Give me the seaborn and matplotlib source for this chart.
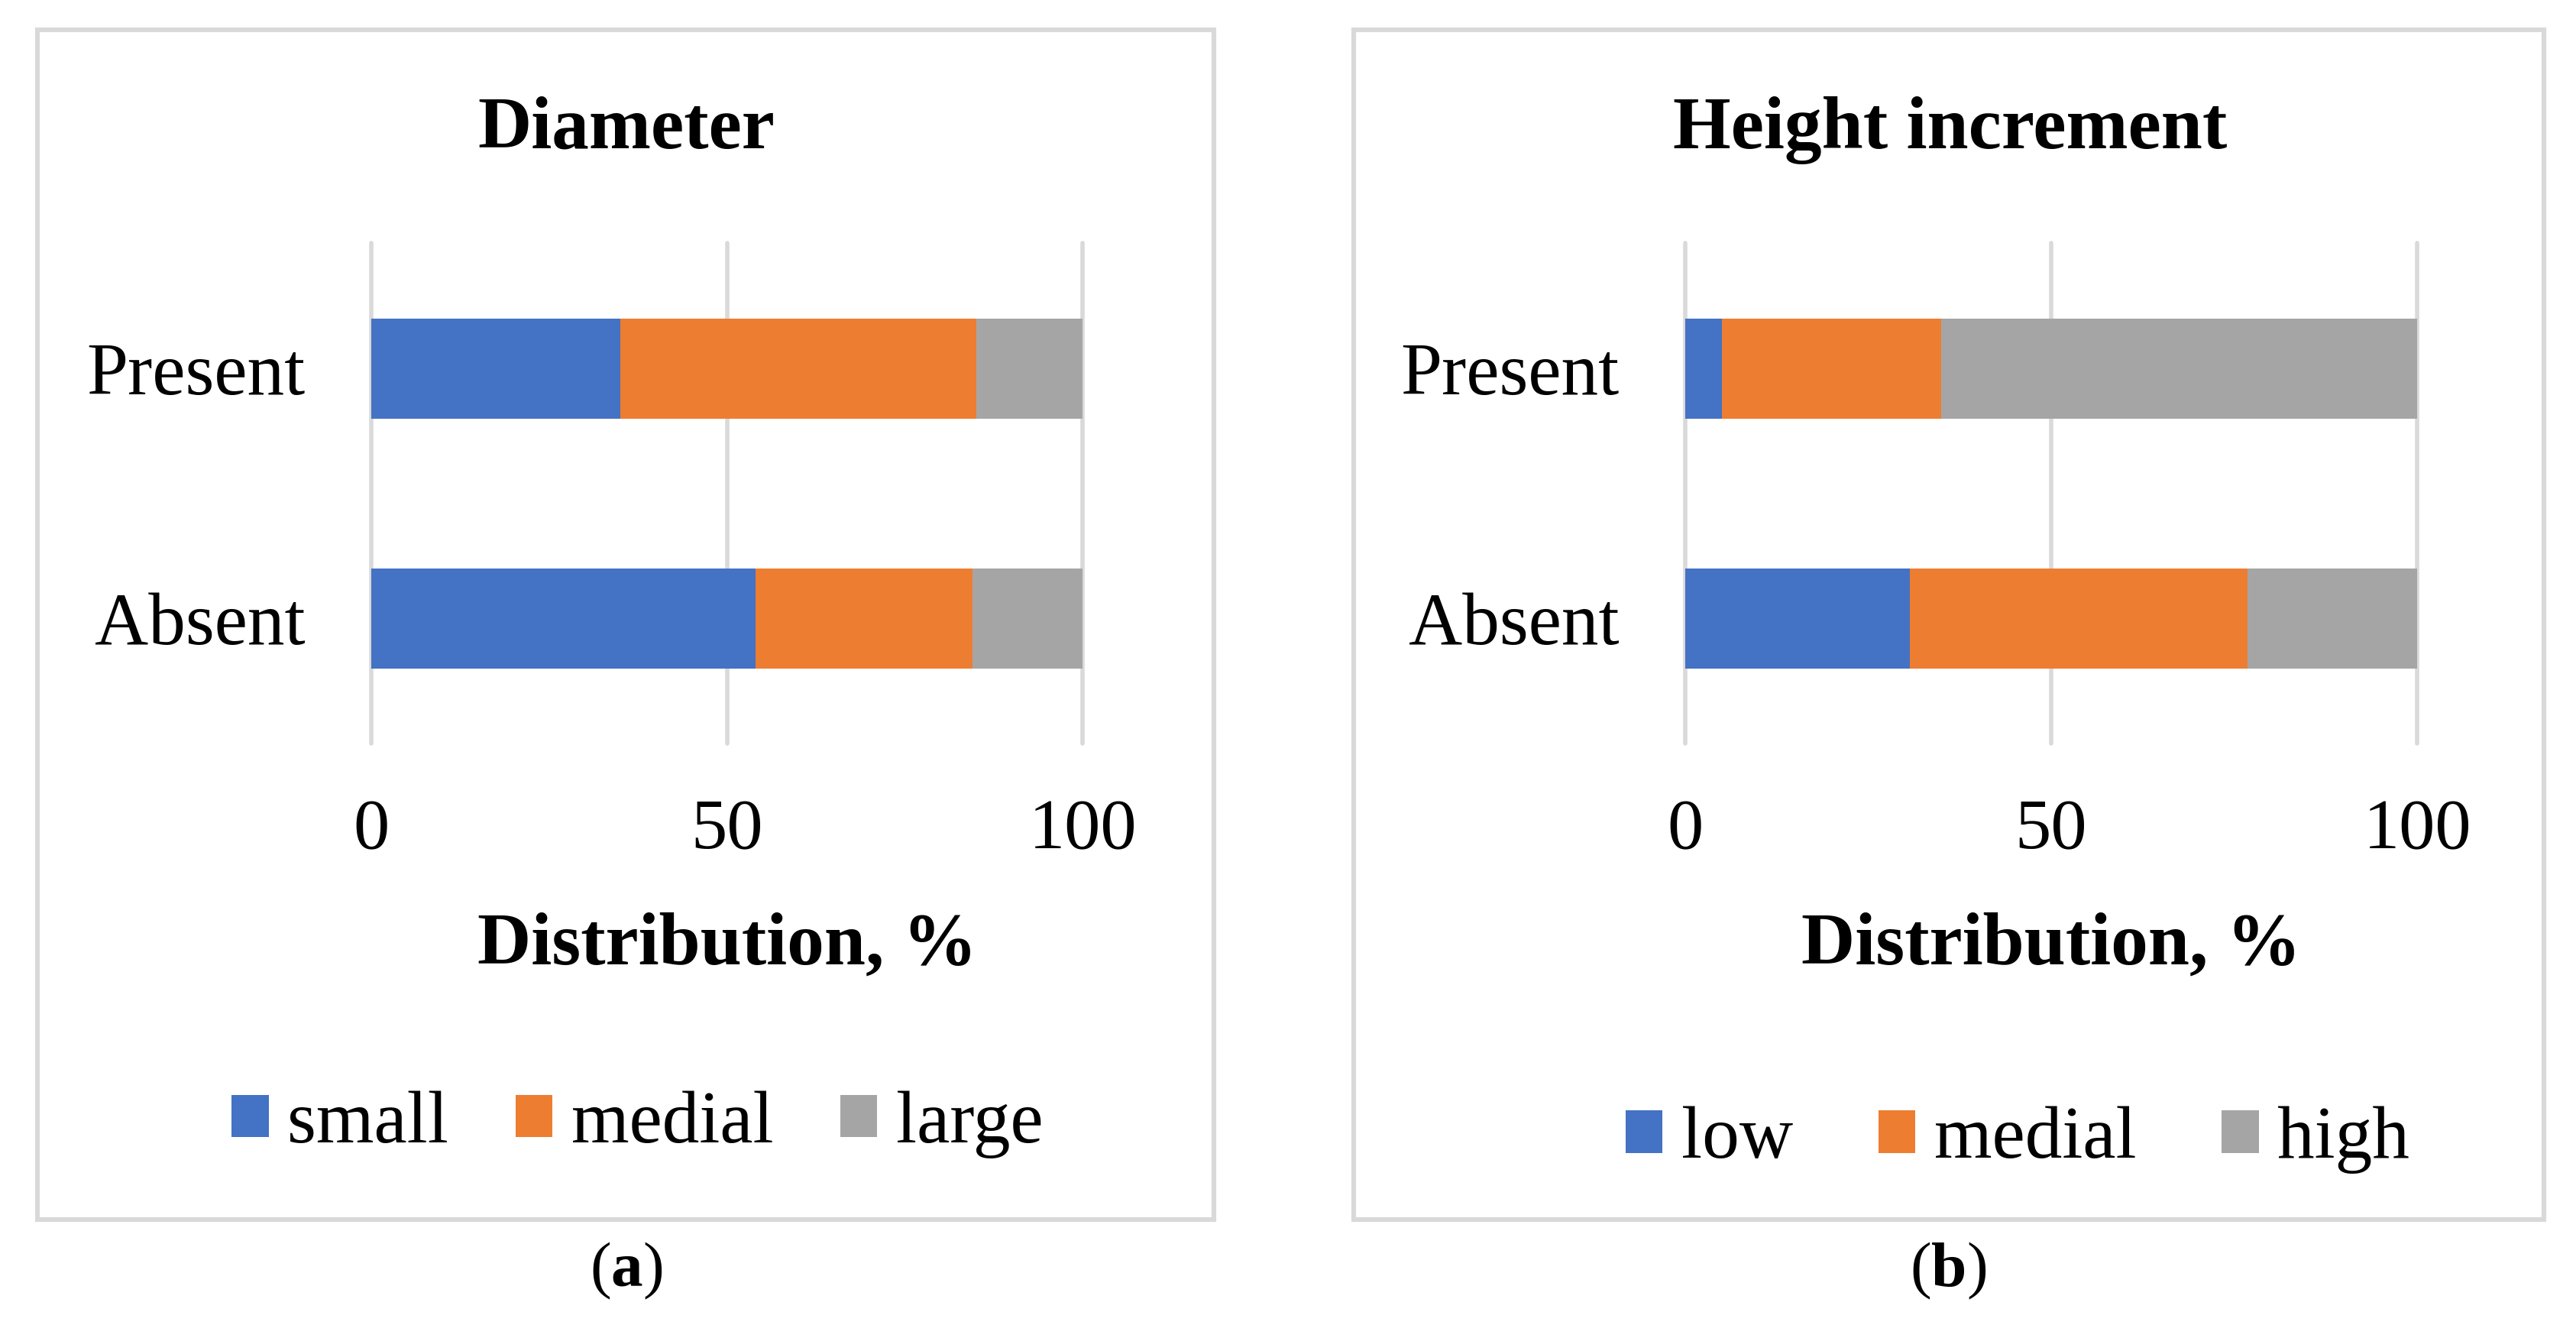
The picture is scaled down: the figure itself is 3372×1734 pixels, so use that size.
import seaborn as sns
import numpy as np
import pandas as pd
import matplotlib.pyplot as plt
from matplotlib.patches import Rectangle, Patch

# data (percent)
groups = ['Present', 'Absent']
diam_names = ['small', 'medial', 'large']
diam_small = [35, 54]
diam_medial = [50, 30.5]
diam_large = [15, 15.5]
hgt_names = ['low', 'medial', 'high']
hgt_low = [5, 30.7]
hgt_medial = [30, 46.1]
hgt_high = [65, 23.2]
colors = ['#4472C4', '#ED7D31', '#A5A5A5']

sns.set_theme(style='white')
plt.rcParams['font.family'] = ['Liberation Serif']
plt.rcParams['mathtext.fontset'] = 'custom'
plt.rcParams['mathtext.rm'] = 'Liberation Serif'
plt.rcParams['mathtext.bf'] = 'Liberation Serif:bold'
for k in ['text.color', 'axes.labelcolor', 'xtick.color', 'ytick.color']:
    plt.rcParams[k] = 'black'

W, H = 1568, 806
fig = plt.figure(figsize=(16.86, 8.67), dpi=200)


def panel(left, right, title, title_x, names, parts, leg_xy, colsp, box, cap, cap_x):
    ax = fig.add_axes([left / W, 1 - 452.5 / H, (right - left) / W, 304.5 / H])
    df = pd.DataFrame({'group': groups})
    cum = np.cumsum(np.array(parts), axis=0)
    # stacked bars: draw totals first, then shorter cumulative sums on top
    for i in range(len(names) - 1, -1, -1):
        df['v'] = cum[i]
        sns.barplot(data=df, x='v', y='group', order=groups, color=colors[i],
                    saturation=1, width=0.4, linewidth=0, orient='h', ax=ax)
    ax.set_xlim(0, 100)
    ax.set_xticks([0, 50, 100])
    ax.grid(axis='x', color='#D9D9D9', lw=2.0)
    ax.grid(axis='y', visible=False)
    for ln in ax.get_xgridlines():
        ln.set_clip_on(False)
    ax.set_axisbelow(True)
    sns.despine(ax=ax, left=True, bottom=True)
    ax.tick_params(axis='x', length=0, pad=26, labelsize=34)
    ax.tick_params(axis='y', length=0, pad=31, labelsize=35)
    ax.set_xlabel('')
    ax.set_ylabel('')
    cx = (left + right) / 2 / W
    fig.text(cx, 1 - 586.5 / H, 'Distribution, %', ha='center', va='baseline',
             fontsize=35, fontweight='bold')
    fig.text(title_x / W, 1 - 90 / H, title, ha='center', va='baseline',
             fontsize=35, fontweight='bold')
    handles = [Patch(facecolor=c, edgecolor='none') for c in colors]
    fig.legend(handles, names, loc='center', bbox_to_anchor=(leg_xy[0] / W, 1 - leg_xy[1] / H),
               ncol=3, frameon=False, fontsize=35, handlelength=0.5, handleheight=0.5,
               handletextpad=0.25, columnspacing=colsp)
    x0, y0, x1, y1 = box
    fig.patches.append(Rectangle((x0 / W, 1 - y1 / H), (x1 - x0) / W, (y1 - y0) / H,
                                 transform=fig.transFigure, fill=False,
                                 edgecolor='#D9D9D9', lw=2.2))
    fig.text(cap_x / W, 1 - 782.5 / H, '($\\mathbf{' + cap + '}$)', ha='center',
             va='baseline', fontsize=30)
    return ax


panel(226, 659, 'Diameter', 381, diam_names, [diam_small, diam_medial, diam_large],
      (388, 684), 0.9, (22.7, 18, 739, 742), 'a', 381)
panel(1025.6, 1471.5, 'Height increment', 1187, hgt_names, [hgt_low, hgt_medial, hgt_high],
      (1228, 693.6), 1.15, (824, 18, 1548.6, 742), 'b', 1186)

plt.savefig('out.png', dpi=200)
